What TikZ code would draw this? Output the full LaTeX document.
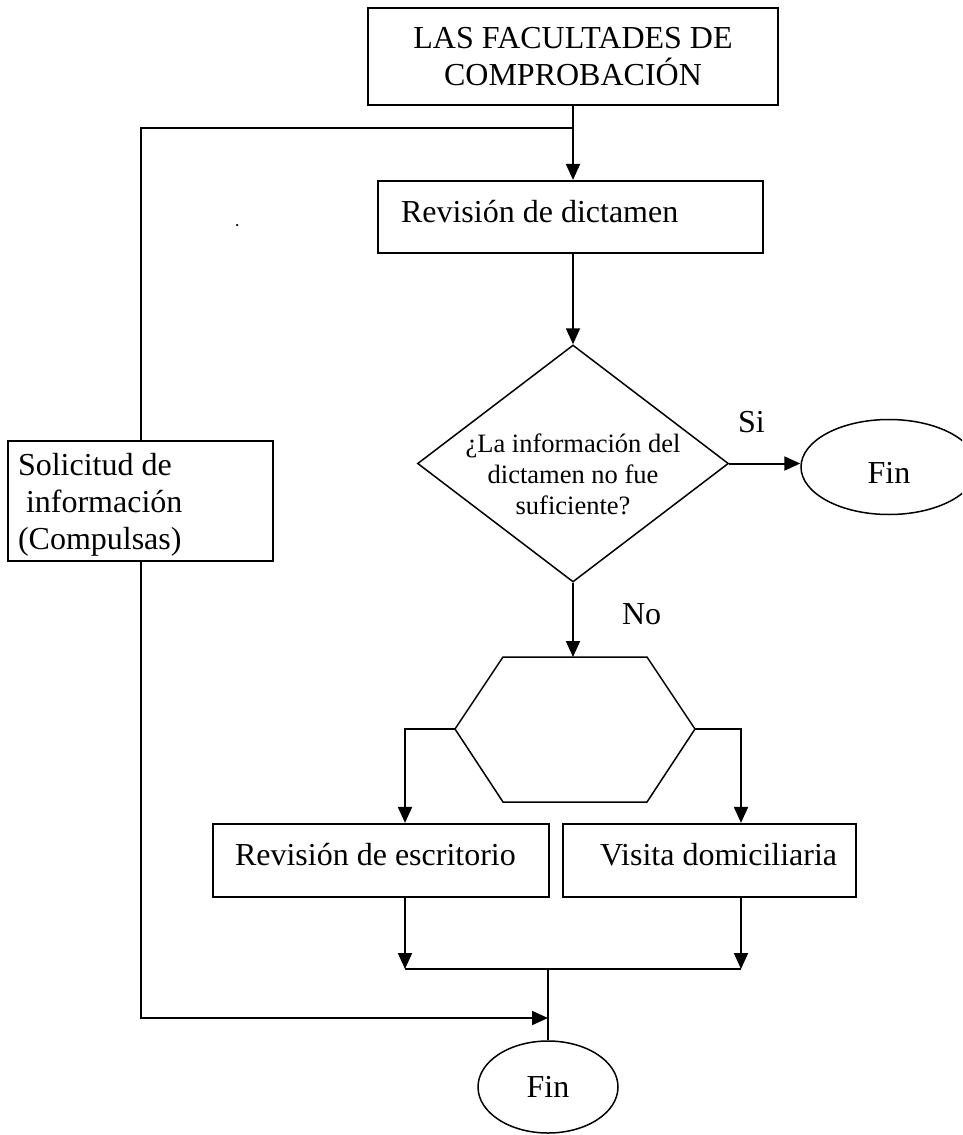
\documentclass[tikz,border=0pt]{standalone}
\usepackage{fontspec}
\setmainfont{Liberation Serif}
\usetikzlibrary{arrows.meta,shapes.geometric}
\begin{document}
\begin{tikzpicture}[x=1pt,y=-1pt,
  line width=2pt,
  box/.style={draw, rectangle, inner sep=0pt, line width=2.2pt},
  thin/.style={line width=1.5pt},
  arr/.style={-{Triangle[length=16pt,width=14pt]}},
  txt/.style={font=\fontsize{32}{37}\selectfont, inner sep=0pt},
  small/.style={font=\fontsize{26.5}{31}\selectfont, inner sep=0pt}]
\useasboundingbox (0,0) rectangle (962,1135);
\clip (0,0) rectangle (962,1135);

% boxes
\node[box, txt, minimum width=410pt, minimum height=97pt, align=center] (top) at (573,56.5) {LAS FACULTADES DE\\COMPROBACIÓN};
\node[box, minimum width=385pt, minimum height=72pt] (dict) at (570.5,217) {};
\node[txt, anchor=base west] (dictt) at (400,222) {Revisión de dictamen};
\node[circle, fill, inner sep=0pt, minimum size=2.5pt] (dot) at (237,225) {};

\node[box, minimum width=265pt, minimum height=120pt] (sol) at (140.5,501) {};
\node[txt, anchor=north west, align=left] (solt) at (17,452) {Solicitud de\\\hspace*{0.25em}información\\(Compulsas)};

% decision
\node[draw, thin, diamond, minimum width=311pt, minimum height=237pt, inner sep=0pt] (dia) at (573,463.5) {};
\node[small, align=center] (diat) at (573,474) {¿La información del\\dictamen no fue\\suficiente?};
\node[txt, anchor=base west] (si) at (737,432) {Si};
\node[draw, thin, ellipse, minimum width=176pt, minimum height=95pt, inner sep=0pt] (fin1) at (889,467) {};
\node[txt, anchor=base] (fin1t) at (889,483) {Fin};
\node[txt, anchor=base west] (no) at (621,624) {No};

% hexagon
\coordinate (h1) at (503,657);
\coordinate (h2) at (647,657);
\coordinate (hR) at (695,729);
\coordinate (h3) at (647,802);
\coordinate (h4) at (503,802);
\coordinate (hL) at (455,729);
\coordinate (hT) at (573,657);
\draw[thin] (h1) -- (h2) -- (hR) -- (h3) -- (h4) -- (hL) -- cycle;

% lower boxes
\node[box, minimum width=336pt, minimum height=73pt] (esc) at (381,860.5) {};
\node[txt, anchor=base west] (esct) at (234,865) {Revisión de escritorio};
\node[box, minimum width=293pt, minimum height=73pt] (vis) at (709.5,860.5) {};
\node[txt, anchor=base west] (vist) at (599,865) {Visita domiciliaria};

\node[draw, thin, ellipse, minimum width=140pt, minimum height=92pt, inner sep=0pt, txt] (fin2) at (548,1087) {Fin};

% connectors
\coordinate (j1) at (573,128);
\draw[arr] (top.south) -- (top.south |- dict.north);
\draw (j1) -| (sol.north);
\draw[arr] (dia.north |- dict.south) -- (dia.north);
\draw[arr] (dia.east) -- (dia.east -| fin1.west);
\draw[arr] (dia.south) -- (hT);

\coordinate (bl) at (405,729);
\coordinate (br) at (741,729);
\draw[arr] (hL) -- (bl) -- (bl |- esc.north);
\draw[arr] (hR) -- (br) -- (br |- vis.north);

\coordinate (jl) at (405,969);
\coordinate (jr) at (741,969);
\coordinate (jm) at (548,969);
\draw[arr] (bl |- esc.south) -- (jl);
\draw[arr] (br |- vis.south) -- (jr);
\draw (jl) -- (jr);
\draw (jm) -- (fin2.north);

\coordinate (lm) at (548,1018);
\draw[arr] (sol.south) |- (lm);
\end{tikzpicture}
\end{document}
